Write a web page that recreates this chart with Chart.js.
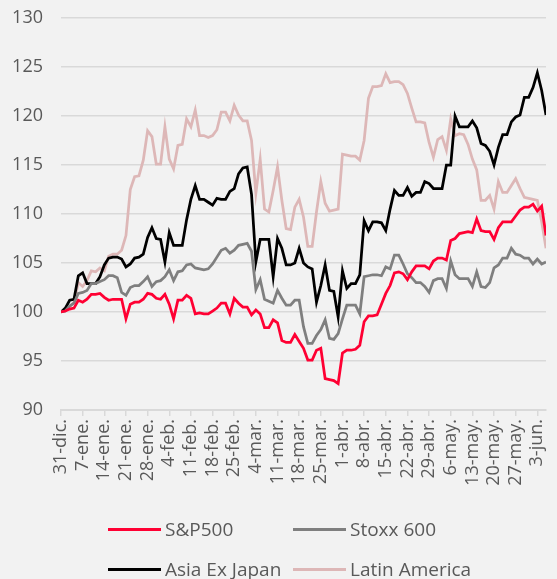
<!DOCTYPE html>
<html><head><meta charset="utf-8">
<script src="https://cdn.jsdelivr.net/npm/chart.js@4.4.0/dist/chart.umd.min.js"></script>
<style>
html,body{margin:0;padding:0;background:#f2f2f2;}
#wrap{position:relative;width:557px;height:579px;background:#f2f2f2;}
#c{position:absolute;left:0;top:0;}
#legend{position:absolute;left:0;top:0;width:557px;height:579px;pointer-events:none;font-family:"Open Sans","Noto Sans",sans-serif;font-size:19px;color:#595959;}
.item{position:absolute;display:flex;align-items:center;white-space:nowrap;height:24px;line-height:24px;}
.sw{width:53px;height:3px;margin-right:4px;}
</style></head>
<body>
<div id="wrap"><canvas id="c" width="557" height="579"></canvas><div id="legend"></div></div>
<script>
const weekLabels = ['31-dic.','7-ene.','14-ene.','21-ene.','28-ene.','4-feb.','11-feb.','18-feb.','25-feb.','4-mar.','11-mar.','18-mar.','25-mar.','1-abr.','8-abr.','15-abr.','22-abr.','29-abr.','6-may.','13-may.','20-may.','27-may.','3-jun.'];
const seriesNames = ['S&P500','Stoxx 600','Asia Ex Japan','Latin America'];
const seriesColors = ['#ff0033','#7f7f7f','#000000','#ddb7b7'];

const sp500 = [100,100.1,100.3,100.4,101.2,101.0,101.3,101.8,101.8,101.9,
101.5,101.2,101.3,101.3,101.3,99.3,100.8,101.0,101.0,101.3,
101.9,101.8,101.4,101.3,101.8,100.8,99.3,101.2,101.2,101.7,
101.4,99.8,99.9,99.8,99.8,100.1,100.4,100.9,100.9,99.8,
101.4,100.9,100.5,100.5,99.7,100.2,99.8,98.4,98.4,99.2,
98.9,97.1,96.9,96.9,97.7,97.0,96.3,95.1,95.1,96.1,
96.3,93.2,93.1,93.0,92.7,95.8,96.1,96.1,96.2,96.6,
99.0,99.6,99.6,99.7,100.8,101.9,102.7,104.0,104.1,103.9,
103.3,104.1,104.7,104.7,104.7,104.4,105.2,105.5,105.5,105.3,
107.3,107.5,108.0,108.1,108.2,108.1,109.5,108.3,108.2,108.2,
107.4,108.6,109.2,109.2,109.2,109.8,110.4,110.7,110.7,111.0,
110.3,110.8,107.8];

const stoxx600 = [100,100.1,100.6,100.9,101.9,102.0,102.2,102.9,102.9,103.1,
103.3,103.7,103.7,103.5,102.0,101.7,102.5,102.7,102.7,103.1,
103.6,102.6,103.1,103.2,103.6,104.3,103.2,104.1,104.2,104.8,
104.9,104.5,104.4,104.3,104.4,104.9,105.6,106.3,106.5,106.0,
106.3,106.8,106.9,107.0,106.2,102.3,103.3,101.3,101.1,100.9,
102.2,101.4,100.7,100.7,101.2,101.2,98.5,96.8,96.8,97.6,
98.2,99.2,97.3,97.2,97.8,99.3,100.7,100.7,100.7,99.8,
103.6,103.7,103.8,103.8,103.7,104.6,104.4,105.8,105.8,104.9,
103.9,103.5,103.0,103.0,102.6,102.0,103.2,103.4,103.4,102.4,
105.2,103.8,103.4,103.4,103.4,102.6,104.1,102.6,102.5,103.0,
104.5,104.8,105.5,105.5,106.5,105.9,105.8,105.5,105.5,104.9,
105.4,104.9,105.1];

const asiaExJapan = [100,100.4,101.2,101.3,103.7,104.0,102.9,102.9,102.9,103.6,
104.8,105.5,105.6,105.6,105.4,104.6,104.9,105.5,105.6,105.9,
107.6,108.6,107.5,107.4,105.1,108.1,106.8,106.8,106.8,109.4,
111.5,112.9,111.5,111.5,111.2,110.9,111.6,111.5,111.5,112.3,
112.6,114.1,114.7,114.8,112.0,105.1,107.4,107.4,107.4,103.6,
107.5,106.5,104.8,104.8,105.0,106.5,105.0,104.6,104.4,101.0,
102.7,104.8,102.2,102.1,99.5,104.2,102.4,102.9,102.9,103.8,
109.3,108.3,109.2,109.2,109.1,108.3,110.5,112.4,111.9,111.9,
112.7,111.8,112.2,112.2,113.3,113.1,112.6,112.6,112.6,115.0,
115.0,120.0,118.9,118.9,118.9,119.5,118.8,117.2,117.0,116.4,
115.0,116.8,118.1,118.1,119.4,119.9,120.1,121.9,121.9,122.9,
124.4,122.6,120.1];

const latinAmerica = [100,100.3,100.5,101.0,103.0,102.6,103.2,104.2,104.1,104.5,
104.2,105.7,105.9,105.9,106.3,107.8,112.5,113.8,113.9,115.5,
118.5,117.9,115.1,115.1,118.9,115.6,114.6,117.0,117.1,119.7,
118.9,120.6,118.0,118.0,117.8,118.0,118.6,120.4,120.4,119.5,
121.1,120.1,119.5,119.5,117.5,112.1,115.6,110.5,110.2,112.4,
114.8,111.4,108.5,108.4,110.7,111.5,109.7,106.7,106.7,110.2,
113.3,111.1,110.3,110.4,110.5,116.1,116.0,115.9,115.9,115.5,
117.5,121.8,123.0,123.0,123.1,124.3,123.4,123.5,123.5,123.2,
122.3,120.8,119.4,119.4,119.3,117.3,115.8,117.6,117.9,116.5,
119.7,118.0,118.2,118.1,117.1,115.6,114.5,111.4,111.4,111.9,
110.5,113.3,112.2,112.2,112.9,113.6,112.6,111.7,111.6,111.5,
111.4,109.2,106.5];

const allSeries = [sp500, stoxx600, asiaExJapan, latinAmerica];
const FONT = '"Open Sans", "Noto Sans", sans-serif';
const TXT = '#595959';
const GRID = '#d9d9d9';

const datasets = allSeries.map((arr, k) => ({
  label: seriesNames[k],
  data: arr.map((v, i) => ({x: i, y: v})),
  borderColor: seriesColors[k],
  backgroundColor: seriesColors[k],
  borderWidth: 2.75,
  pointRadius: 0,
  tension: 0,
  fill: false
}));

new Chart(document.getElementById('c'), {
  type: 'line',
  data: { datasets },
  options: {
    responsive: false,
    animation: false,
    layout: { padding: { top: 18, right: 11, left: 0, bottom: 0 } },
    plugins: { legend: { display: false }, tooltip: { enabled: false } },
    scales: {
      x: {
        type: 'linear',
        min: 0,
        max: sp500.length - 1,
        afterBuildTicks: s => { s.ticks = weekLabels.map((_, k) => ({ value: k * 5 })); },
        afterFit: s => { s.height = 169; s.paddingLeft = 0; s.paddingRight = 0; },
        ticks: {
          autoSkip: false,
          minRotation: 90,
          maxRotation: 90,
          padding: 3,
          color: TXT,
          font: { family: FONT, size: 18 },
          callback: v => weekLabels[Math.round(v / 5)]
        },
        grid: { drawOnChartArea: false, drawTicks: true, tickLength: 6, color: GRID, lineWidth: 1.5 },
        border: { display: true, color: GRID, width: 2 }
      },
      y: {
        min: 90,
        max: 130,
        afterFit: s => { s.width = 61; s.paddingTop = 0; s.paddingBottom = 0; },
        ticks: { stepSize: 5, padding: 18, color: TXT, font: { family: FONT, size: 18 } },
        grid: { color: GRID, lineWidth: 1.5, drawTicks: false },
        border: { display: false }
      }
    }
  }
});

const legend = document.getElementById('legend');
const pos = [[108, 517], [293, 517], [108, 557], [293, 557]];
seriesNames.forEach((name, k) => {
  const d = document.createElement('div');
  d.className = 'item';
  d.style.left = pos[k][0] + 'px';
  d.style.top = pos[k][1] + 'px';
  const sw = document.createElement('span');
  sw.className = 'sw';
  sw.style.background = seriesColors[k];
  const t = document.createElement('span');
  t.textContent = name;
  d.appendChild(sw); d.appendChild(t);
  legend.appendChild(d);
});
</script>
</body></html>
